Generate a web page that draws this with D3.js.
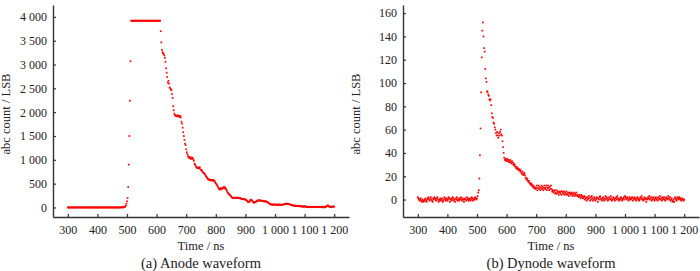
<!DOCTYPE html>
<html>
<head>
<meta charset="utf-8">
<title>Anode / Dynode waveform</title>
<style>
  body { margin: 0; background: #fff; }
</style>
</head>
<body>
<div id="chart"></div>
<script src="https://cdn.jsdelivr.net/npm/d3@7"></script>
<script>
// sampling: first sample at 300 ns, one sample every 2 ns
const timeStart = 300
const timeStep = 2

// anode samples (LSB), 300 ns .. 1200 ns
const anodeCounts = [
  0,2,-3,1,0,-2,3,0,-1,2,            // 300
  0,-2,1,3,0,-1,2,0,-3,1,            // 320
  2,0,-1,1,-2,0,3,1,0,-2,            // 340
  1,0,2,-1,0,-3,1,2,0,-1,            // 360
  0,2,-2,1,0,3,-1,0,1,-2,            // 380
  2,0,-1,0,3,-2,1,0,-1,2,            // 400
  0,1,-2,0,2,-1,3,0,-2,1,            // 420
  0,-1,2,0,1,-3,0,2,-1,0,            // 440
  3,0,-2,1,0,2,-1,0,1,4,             // 460
  2,1,3,2,4,6,10,20,40,80,           // 480
  130,200,430,900,1500,2240,3070,3920,3920,3920, // 500
  3920,3920,3920,3920,3920,3920,3920,3920,3920,3920, // 520
  3920,3920,3920,3920,3920,3920,3920,3920,3920,3920, // 540
  3920,3920,3920,3920,3920,3920,3920,3920,3920,3920, // 560
  3920,3920,3920,3920,3920,3920,3920,3920,3920,3920, // 580
  3920,3920,3920,3920,3920,3920,3920,3700,3465,3310, // 600
  3260,3230,3225,3190,3140,3060,2920,2830,2740,2620, // 620
  2660,2600,2520,2500,2480,2460,2380,2300,2125,2040, // 640
  1970,1940,1925,1930,1915,1920,1935,1910,1925,1900, // 660
  1920,1890,1800,1760,1675,1580,1500,1420,1340,1310, // 680
  1220,1160,1120,1080,1050,1040,1060,1030,1020,1050, // 700
  1030,1040,1010,980,920,900,870,850,830,840,        // 720
  825,835,820,845,800,790,780,760,740,730,           // 740
  720,700,690,660,650,630,610,590,583,590,           // 760
  570,580,575,560,575,580,560,570,550,530,           // 780
  510,490,470,450,420,400,380,375,410,385,           // 800
  390,400,415,425,400,430,410,390,370,340,           // 820
  310,300,285,270,260,245,230,215,205,200,           // 840
  205,200,195,205,200,210,200,195,205,200,           // 860
  195,200,190,185,180,175,180,170,175,170,           // 880
  165,160,150,135,120,110,115,130,150,165,           // 900
  160,145,130,115,105,100,110,115,125,135,           // 920
  140,150,145,150,145,150,140,145,135,140,           // 940
  130,135,125,130,125,130,120,115,105,95,            // 960
  85,80,70,65,60,65,55,60,65,55,                     // 980
  60,65,55,60,50,60,55,65,60,55,                     // 1000
  60,50,55,60,60,65,70,75,70,80,                     // 1020
  75,80,70,75,70,65,60,55,50,45,                     // 1040
  40,45,40,35,40,35,30,35,30,25,                     // 1060
  30,35,30,25,20,25,20,15,20,30,                     // 1080
  25,15,20,10,15,10,15,5,10,15,                      // 1100
  10,5,10,15,10,5,10,15,10,5,                        // 1120
  10,15,10,5,10,15,10,5,10,15,                       // 1140
  5,10,0,10,5,10,15,25,35,45,                        // 1160
  35,25,15,10,15,20,10,15,20,15,                     // 1180
  20                                                 // 1200
]

// dynode samples (LSB), 300 ns .. 1200 ns
const dynodeCounts = [
  2,1,0,-1,0,1,-1,-2,0,-1,           // 300
  -2,-1,0,1,-1,-2,0,1,2,0,           // 320
  -1,1,2,0,-1,-2,1,0,2,1,            // 340
  0,-1,1,2,0,-2,-1,0,1,-1,           // 360
  0,1,-2,-1,0,2,1,-1,0,1,            // 380
  -1,0,2,1,-2,0,1,-1,0,2,            // 400
  1,-1,0,-2,1,0,2,-1,0,1,            // 420
  -1,0,1,2,0,-1,1,0,-2,0,            // 440
  1,0,-1,2,0,1,-1,0,1,-1,            // 460
  0,2,1,-1,0,1,0,2,1,0,              // 480
  1,3,6,8,18,38,61,92,122,145,       // 500
  152,140,130,127,112,104,101,93,92,90, // 520
  89,86,85,86,81,74,71,70,66,65,     // 540
  62,60,57,55,58,55,53,57,55,58,     // 560
  60,56,55,50,45,40,36,34,35,33,     // 580
  34,35,33,34,32,33,34,32,31,33,     // 600
  32,30,31,29,30,28,27,28,26,27,     // 620
  26,25,26,24,25,23,22,24,21,22,     // 640
  23,21,19,18,17,18,16,15,16,14,     // 660
  13,14,12,13,11,12,10,11,10,9,      // 680
  10,12,8,10,12,9,11,8,10,12,        // 700
  9,11,8,10,12,9,10,12,8,10,         // 720
  12,10,8,11,9,12,9,7,8,6,           // 740
  7,8,5,6,8,5,7,6,4,7,               // 760
  6,5,7,4,7,6,5,7,4,6,               // 780
  5,7,4,5,6,3,5,6,4,5,               // 800
  6,3,5,4,6,3,5,4,6,3,               // 820
  4,3,2,4,3,1,4,2,3,1,               // 840
  2,3,0,2,1,-1,2,0,1,3,              // 860
  1,-1,2,0,3,1,-1,0,2,1,             // 880
  -1,0,2,1,-2,1,0,2,3,1,             // 900
  0,-1,1,2,0,-1,1,3,0,2,             // 920
  1,-1,0,2,1,0,3,1,-1,0,             // 940
  2,1,0,-1,1,2,0,3,1,0,              // 960
  -1,1,0,2,1,-1,0,1,2,0,             // 980
  3,2,1,0,2,1,-1,0,2,1,              // 1000
  0,1,2,-1,1,0,2,1,0,-1,             // 1020
  1,2,0,1,-1,0,2,1,3,0,              // 1040
  1,-1,0,2,1,0,-2,1,0,2,             // 1060
  1,3,0,1,2,-1,0,1,2,0,              // 1080
  -1,1,2,0,1,-1,2,0,1,3,             // 1100
  0,1,-1,2,0,1,2,0,-1,1,             // 1120
  2,0,1,3,1,0,2,-1,0,1,              // 1140
  -2,-1,0,-2,1,2,0,-1,1,2,           // 1160
  0,1,2,0,1,-1,0,1,0,-1,             // 1180
  0                                  // 1200
]

const timeTicks = [300, 400, 500, 600, 700, 800, 900, 1000, 1100, 1200]
const anodeTicks = [0, 500, 1000, 1500, 2000, 2500, 3000, 3500, 4000]
const dynodeTicks = [0, 20, 40, 60, 80, 100, 120, 140, 160]
const captions = ["(a) Anode waveform", "(b) Dynode waveform"]
const yTitle = "abc count / LSB"
const xTitle = "Time / ns"

const width = 700, height = 271
const serif = '"Liberation Serif"'

const svg = d3.select("#chart").append("svg")
  .attr("width", width)
  .attr("height", height)

// numbers like "1 000"
const fmt = d3.formatLocale({ decimal: ".", thousands: " ", grouping: [3], currency: ["", ""] }).format(",d")

function label(g, x, y, size, txt) {
  return g.append("text")
    .attr("x", x).attr("y", y)
    .attr("text-anchor", "middle")
    .attr("font-size", size)
    .attr("fill", "#222")
    .style("font-family", serif)
    .text(txt)
}

function panel(left, values, yDomain, yTicks, caption) {
  const g = svg.append("g").attr("transform", `translate(${left},0)`)

  const x = d3.scaleLinear().domain([250, 1250]).range([53, 349])
  const y = d3.scaleLinear().domain(yDomain).range([217, 5])

  const data = values.map((v, i) => ({ t: timeStart + i * timeStep, v: v }))

  g.append("g")
    .selectAll("rect")
    .data(data)
    .join("rect")
      .attr("x", d => x(d.t) - 0.85)
      .attr("y", d => y(d.v) - 0.85)
      .attr("width", 1.7)
      .attr("height", 1.7)
      .attr("fill", "#f00")

  const xAxis = g.append("g")
    .attr("transform", "translate(0,217)")
    .call(d3.axisBottom(x).tickValues(timeTicks).tickFormat(fmt).tickSize(-3).tickSizeOuter(0).tickPadding(8))
  const yAxis = g.append("g")
    .attr("transform", "translate(53,0)")
    .call(d3.axisLeft(y).tickValues(yTicks).tickFormat(fmt).tickSize(-3).tickSizeOuter(0).tickPadding(6))

  for (const ax of [xAxis, yAxis]) {
    ax.select(".domain").attr("stroke", "#333").attr("stroke-width", 1.4)
    ax.selectAll(".tick line").attr("stroke", "#333").attr("stroke-width", 1.2)
    ax.selectAll(".tick text")
      .attr("fill", "#222")
      .attr("font-size", 12)
      .style("font-family", serif)
  }

  label(g, 201, 250, 12.5, xTitle)
  label(g, 201, 268, 14.5, caption)
  label(g, 0, 0, 12.5, yTitle)
    .attr("transform", "translate(10,114) rotate(-90)")
}

panel(0, anodeCounts, [-200, 4250], anodeTicks, captions[0])
panel(350, dynodeCounts, [-15, 167], dynodeTicks, captions[1])
</script>
</body>
</html>
